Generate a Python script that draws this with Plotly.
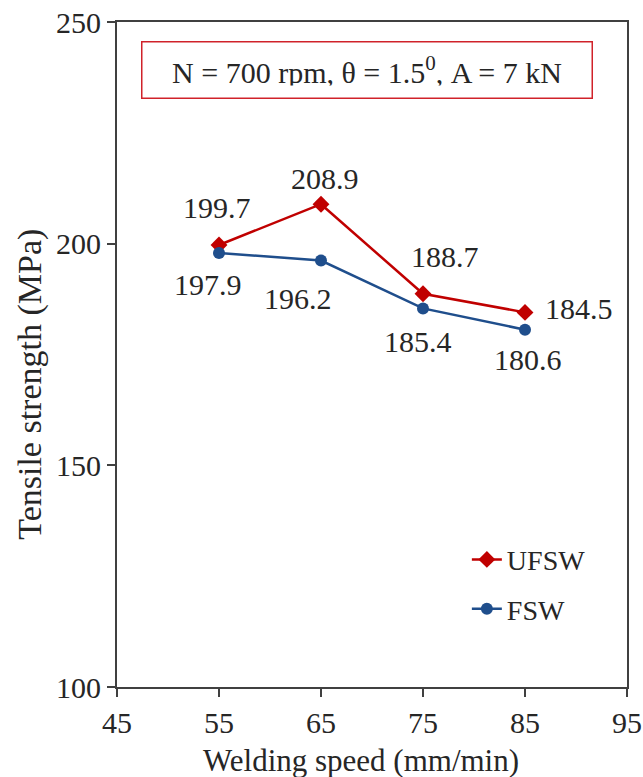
import plotly.graph_objects as go

# Welding speed (mm/min) and tensile strength (MPa)
speed = [55, 65, 75, 85]
ufsw = [199.7, 208.9, 188.7, 184.5]
fsw = [197.9, 196.2, 185.4, 180.6]

x_ticks = [45, 55, 65, 75, 85, 95]
y_ticks = [100, 150, 200, 250]

RED = "#C00000"
BLUE = "#1F4E8C"
FONT = "Times New Roman, Liberation Serif, serif"
TXT = "#262626"

fig = go.Figure()
fig.add_trace(go.Scatter(
    x=speed, y=ufsw, name="UFSW", mode="lines+markers",
    line=dict(color=RED, width=2.5),
    marker=dict(symbol="diamond", size=13, color=RED),
    legendgroup="a",
))
fig.add_trace(go.Scatter(
    x=speed, y=fsw, name="FSW", mode="lines+markers",
    line=dict(color=BLUE, width=2.5),
    marker=dict(symbol="circle", size=12, color=BLUE),
    legendgroup="b",
))

# value labels: (dx, dy) offsets in pixels relative to the point
label_offsets_ufsw = [(-2, 38), (4, 26), (22, 37), (54, 4)]
label_offsets_fsw = [(-11, -32), (-23, -38), (-5, -33), (3, -30)]

for (xv, yv), (dx, dy) in zip(zip(speed, ufsw), label_offsets_ufsw):
    fig.add_annotation(x=xv, y=yv, text=f"{yv:.1f}", showarrow=False,
                       xshift=dx, yshift=dy,
                       font=dict(family=FONT, size=30, color=TXT))
for (xv, yv), (dx, dy) in zip(zip(speed, fsw), label_offsets_fsw):
    fig.add_annotation(x=xv, y=yv, text=f"{yv:.1f}", showarrow=False,
                       xshift=dx, yshift=dy,
                       font=dict(family=FONT, size=30, color=TXT))

# process parameters box
fig.add_annotation(
    x=0.491, y=0.928, xref="paper", yref="paper",
    xanchor="center", yanchor="middle",
    text="N = 700 rpm, θ = 1.5<sup>0</sup>, A = 7 kN",
    showarrow=False, borderwidth=1.5, bordercolor="#D0222A",
    borderpad=12, bgcolor="white",
    font=dict(family=FONT, size=30, color=TXT),
    width=425, height=31,
)

# axis titles
fig.add_annotation(
    x=0.478, y=-0.11, xref="paper", yref="paper",
    xanchor="center", yanchor="middle", showarrow=False,
    text="Welding speed (mm/min)",
    font=dict(family=FONT, size=31, color=TXT),
)
fig.add_annotation(
    x=-0.1706, y=0.456, xref="paper", yref="paper",
    xanchor="center", yanchor="middle", showarrow=False,
    text="Tensile strength (MPa)", textangle=-90,
    font=dict(family=FONT, size=34, color=TXT),
)

axis_common = dict(
    showline=True, linecolor="#404040", linewidth=2, mirror=True,
    ticks="outside", ticklen=8, tickwidth=1.5, tickcolor="#404040",
    showgrid=False, zeroline=False, automargin=False,
    tickfont=dict(family=FONT, size=30, color=TXT),
)

fig.update_layout(
    width=643, height=777,
    margin=dict(l=117, r=16, t=22, b=90),
    paper_bgcolor="white", plot_bgcolor="white",
    font=dict(family=FONT),
    xaxis=dict(range=[45, 95], tickvals=x_ticks, **axis_common),
    yaxis=dict(range=[100, 250], tickvals=y_ticks, **axis_common),
    legend=dict(x=0.686, y=0.229, xanchor="left", yanchor="top",
                font=dict(family=FONT, size=28, color=TXT),
                traceorder="grouped", tracegroupgap=10,
                bgcolor="rgba(0,0,0,0)"),
    showlegend=True,
)

fig.write_html("out.html")
